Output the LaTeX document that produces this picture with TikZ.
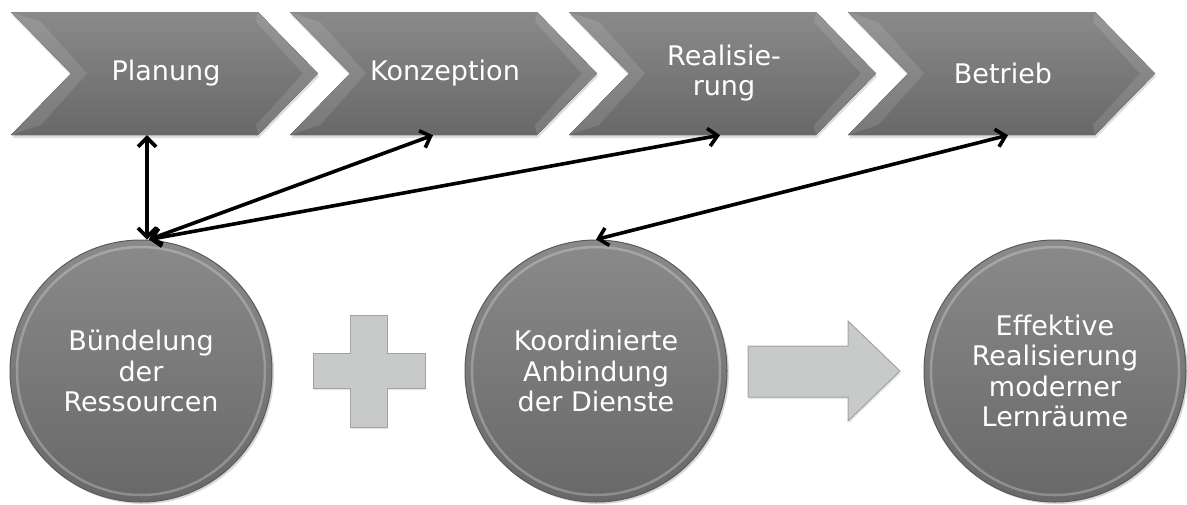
\documentclass[tikz,border=0pt]{standalone}
\usepackage{fontspec}
\setmainfont{DejaVu Sans}
\usetikzlibrary{arrows.meta,shadows}
\definecolor{chevtop}{HTML}{8A8A8A}
\definecolor{chevbot}{HTML}{686868}
\definecolor{disctop}{HTML}{8A8A8A}
\definecolor{discbot}{HTML}{686868}
\definecolor{discedge}{HTML}{5A5A5A}
\definecolor{blockfill}{HTML}{C8CACA}
\definecolor{blockedge}{HTML}{A2A4A4}
\begin{document}
\begin{tikzpicture}[x=1pt,y=-1pt,
  chevtext/.style={text=white, align=center, minimum height=123pt, inner sep=0pt,
    font=\fontsize{27}{30}\selectfont},
  disc/.style={circle, minimum size=262pt, inner sep=0pt, draw=discedge, line width=1pt,
    top color=disctop, bottom color=discbot, text=white, align=center,
    font=\fontsize{27}{30.5}\selectfont,
    drop shadow={opacity=.3, shadow xshift=2pt, shadow yshift=-2pt}},
  bevel/.style={fill=white, opacity=.11},
  block/.style={fill=blockfill, draw=blockedge, line width=1pt,
    drop shadow={opacity=.2, shadow xshift=1pt, shadow yshift=-2pt}},
  link/.style={line width=3.6pt,
    {Straight Barb[length=9pt,width=18pt]}-{Straight Barb[length=9pt,width=18pt]}}]
  \useasboundingbox (0,0) rectangle (1187,504);

  % Phases (chevrons)
  \foreach \x/\name/\txt in {11/plan/Planung, 290/konz/Konzeption,
      569/real/{Realisie-\\rung}, 848/betr/Betrieb} {
    \fill[top color=chevtop, bottom color=chevbot,
      drop shadow={opacity=.25, shadow xshift=1pt, shadow yshift=-3pt}]
      (\x,12) -- ++(247,0) -- ++(60,61.5) -- ++(-60,61.5) -- ++(-247,0)
      -- ++(60,-61.5) -- cycle;
    % bevel facets
    \fill[bevel] (\x,12) -- (\x+60,73.5) -- (\x+76,73.5) -- (\x+30,22) -- cycle;
    \fill[bevel] (\x,135) -- (\x+60,73.5) -- (\x+76,73.5) -- (\x+30,125) -- cycle;
    \fill[bevel] (\x+247,12) -- (\x+307,73.5) -- (\x+292,73.5) -- (\x+245,22) -- cycle;
    \fill[bevel] (\x+247,135) -- (\x+307,73.5) -- (\x+292,73.5) -- (\x+245,125) -- cycle;
    \node[chevtext] (\name) at (\x+155,73.5) {\txt};
  }

  % Results (discs)
  \node[disc] (buend) at (141,371) {Bündelung\\der\\Ressourcen};
  \node[disc] (koord) at (596,371) {Koordinierte\\Anbindung\\der Dienste};
  \node[disc] (eff) at (1055,371) {Effektive\\Realisierung\\moderner\\Lernräume};
  \foreach \c in {buend,koord,eff}
    \draw[white, opacity=.25, line width=2.5pt] (\c.center) circle (124pt);

  % Plus sign
  \filldraw[block] (350,315) -- (387,315) -- (387,353) -- (425,353) -- (425,388)
    -- (387,388) -- (387,427) -- (350,427) -- (350,388) -- (313,388) -- (313,353)
    -- (350,353) -- cycle;

  % Block arrow
  \filldraw[block] (748,346) -- (848,346) -- (848,321) -- (900,371) -- (848,421)
    -- (848,397) -- (748,397) -- cycle;

  % Links between phases and discs
  \draw[link] ([xshift=6pt]buend.north) -- ([xshift=-19pt]plan.south);
  \draw[link] ([xshift=8pt]buend.north) -- ([xshift=-12pt]konz.south);
  \draw[link] ([xshift=8pt]buend.north) -- ([xshift=-4pt]real.south);
  \draw[link] (koord.north) -- ([xshift=5pt]betr.south);
\end{tikzpicture}
\end{document}
